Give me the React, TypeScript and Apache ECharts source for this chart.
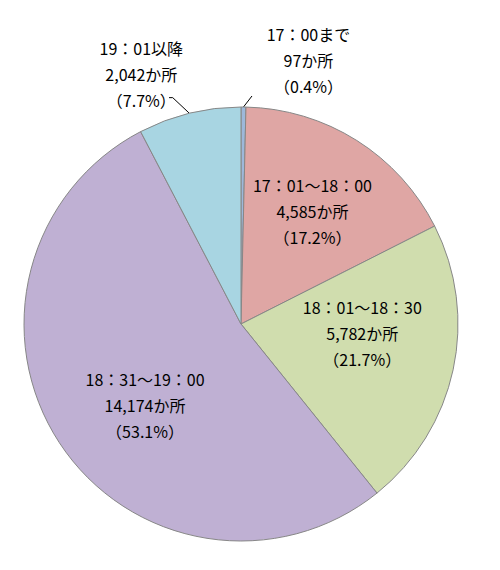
import React, { useEffect, useRef } from "react";
import * as echarts from "echarts";

// 時間帯ごとの箇所数
const categories = [
  "17：00まで",
  "17：01～18：00",
  "18：01～18：30",
  "18：31～19：00",
  "19：01以降",
];
const counts = [97, 4585, 5782, 14174, 2042];
const sliceColors = ["#9db8da", "#dfa6a4", "#d0ddae", "#bfb0d3", "#a8d5e2"];

// 円の位置と大きさ (px)
const CX = 241;
const CY = 324;
const R = 217;

// ラベル位置の微調整 [dx, dy]
const labelNudge = [
  [65, -47],
  [2, -3],
  [-6, -18],
  [13, 10],
  [-48, -39],
];
// 外側ラベルの引き出し線 (円周上の点からの相対座標)
const leaderBends: (number[][] | null)[] = [
  [[8.5, -11]],
  null,
  null,
  null,
  [
    [-16.6, -15.6],
    [-20.3, -15.6],
  ],
];

const total = counts.reduce((a, b) => a + b, 0);

const midAngle = (i: number) => {
  let before = 0;
  for (let k = 0; k < i; k++) before += counts[k];
  return ((before + counts[i] / 2) / total) * Math.PI * 2;
};

const App: React.FC = () => {
  const chartRef = useRef<HTMLDivElement>(null);

  useEffect(() => {
    if (!chartRef.current) return;
    const chart = echarts.init(chartRef.current, undefined, { renderer: "svg" });

    const option: echarts.EChartsOption = {
      animation: false,
      backgroundColor: "#ffffff",
      series: [
        {
          type: "pie",
          center: [CX, CY],
          radius: R,
          startAngle: 90,
          clockwise: true,
          avoidLabelOverlap: false,
          emphasis: { disabled: true },
          itemStyle: { borderColor: "#878787", borderWidth: 1 },
          label: {
            show: true,
            color: "#000000",
            fontSize: 16,
            lineHeight: 26,
            fontFamily: "'Noto Sans CJK JP', sans-serif",
            align: "center",
            // 各割合は単純に四捨五入 (合計が100.0にならなくてもよい)
            formatter: (p: any) =>
              `${p.name}\n${Number(p.value).toLocaleString("en-US")}か所\n（${(
                (Number(p.value) / total) *
                100
              ).toFixed(1)}%）`,
          },
          labelLine: {
            lineStyle: { color: "#000000", width: 1 },
          },
          labelLayout: (params: any) => {
            const i = params.dataIndex;
            const a = midAngle(i);
            const bends = leaderBends[i];
            const rr = bends ? R : R * 0.6;
            const bx = CX + rr * Math.sin(a);
            const by = CY - rr * Math.cos(a);
            const [dx, dy] = labelNudge[i];
            const res: any = {
              x: bx + dx,
              y: by + dy,
              align: "center",
              verticalAlign: "middle",
            };
            if (bends) {
              res.labelLinePoints = [
                [bx, by],
                ...bends.map(([px, py]) => [bx + px, by + py]),
              ];
              if (res.labelLinePoints.length < 3) {
                res.labelLinePoints.push(res.labelLinePoints[1]);
              }
            }
            return res;
          },
          data: categories.map((name, i) => ({
            name,
            value: counts[i],
            itemStyle: { color: sliceColors[i] },
            label: { position: leaderBends[i] ? "outside" : "inside" },
            labelLine: { show: !!leaderBends[i] },
          })),
        },
      ],
    };

    chart.setOption(option);
    return () => {
      chart.dispose();
    };
  }, []);

  return (
    <div
      ref={chartRef}
      style={{ position: "absolute", left: 0, top: 0, width: 500, height: 570 }}
    />
  );
};

export default App;
